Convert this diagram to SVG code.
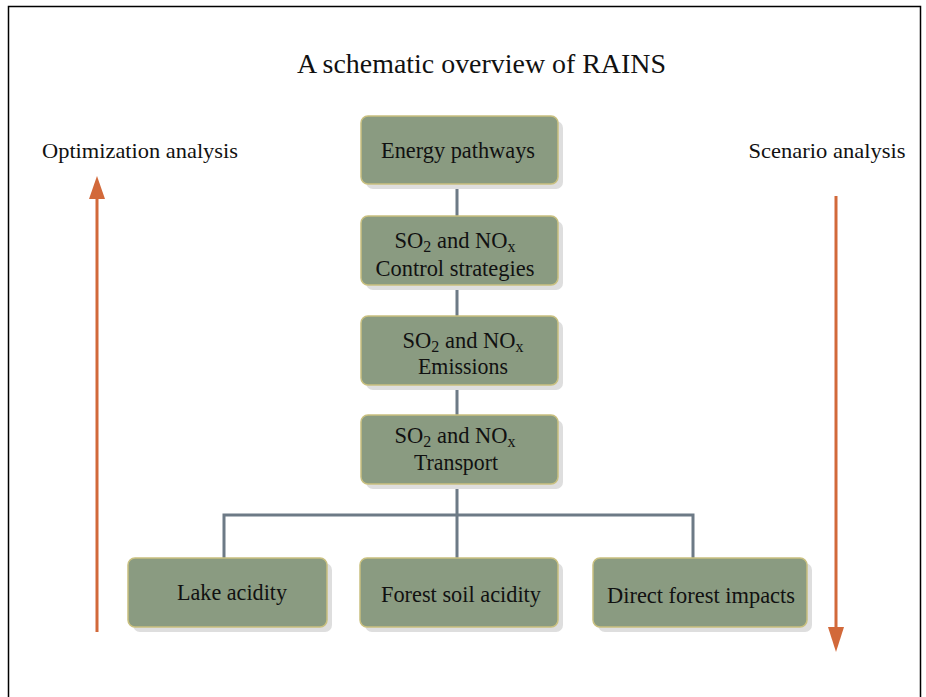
<svg xmlns="http://www.w3.org/2000/svg" width="926" height="697" viewBox="0 0 926 697" font-family="'Liberation Serif', 'Times New Roman', 'DejaVu Serif', serif">
<style>
.t{fill:#111;}
.lbl{font-size:22.5px;text-anchor:middle;fill:#111;}
.box{fill:#8a9b81;stroke:#c9c07f;stroke-width:1.5;}
.sh{fill:#dedede;}
.con{stroke:#6d7a86;stroke-width:3;fill:none;}
.arr{stroke:#d2693a;stroke-width:3;fill:none;}
.ah{fill:#d2693a;}
</style>
<rect x="0" y="0" width="926" height="697" fill="#fff"/>
<path d="M8.5,700 V6.5 H920.5 V700" fill="none" stroke="#000" stroke-width="1.5"/>
<text class="t" x="481.5" y="73" font-size="27" text-anchor="middle" textLength="369" lengthAdjust="spacingAndGlyphs">A schematic overview of RAINS</text>
<text class="t" x="140" y="158" font-size="21" text-anchor="middle" textLength="196" lengthAdjust="spacingAndGlyphs">Optimization analysis</text>
<text class="t" x="827" y="158" font-size="21" text-anchor="middle" textLength="157" lengthAdjust="spacingAndGlyphs">Scenario analysis</text>
<g id="connectors">
<path class="con" d="M457,184 V558 M224,558 V515 H693 V558"/>
<path class="arr" d="M97,632 V195"/>
<path class="ah" d="M97,176 L105,199 L89,199 Z"/>
<path class="arr" d="M836,196 V630"/>
<path class="ah" d="M836,652 L828,627 L844,627 Z"/>
</g>
<g id="n1"><rect class="sh" x="366" y="121" width="197" height="68" rx="7"/><rect class="box" x="361" y="116" width="197" height="68" rx="7"/><text class="lbl" x="458" y="158" textLength="154" lengthAdjust="spacingAndGlyphs">Energy pathways</text></g>
<g id="n2"><rect class="sh" x="366" y="221" width="197" height="69" rx="7"/><rect class="box" x="361" y="216" width="197" height="69" rx="7"/><text class="lbl" x="455" y="248">SO<tspan baseline-shift="-4" font-size="16">2</tspan> and NO<tspan baseline-shift="-4" font-size="16">x</tspan></text><text class="lbl" x="455" y="276" textLength="159" lengthAdjust="spacingAndGlyphs">Control strategies</text></g>
<g id="n3"><rect class="sh" x="366" y="321" width="197" height="69" rx="7"/><rect class="box" x="361" y="316" width="197" height="69" rx="7"/><text class="lbl" x="463" y="348">SO<tspan baseline-shift="-4" font-size="16">2</tspan> and NO<tspan baseline-shift="-4" font-size="16">x</tspan></text><text class="lbl" x="463" y="374" textLength="90" lengthAdjust="spacingAndGlyphs">Emissions</text></g>
<g id="n4"><rect class="sh" x="366" y="420" width="197" height="69" rx="7"/><rect class="box" x="361" y="415" width="197" height="69" rx="7"/><text class="lbl" x="455" y="443">SO<tspan baseline-shift="-4" font-size="16">2</tspan> and NO<tspan baseline-shift="-4" font-size="16">x</tspan></text><text class="lbl" x="456" y="470" textLength="84" lengthAdjust="spacingAndGlyphs">Transport</text></g>
<g id="n5"><rect class="sh" x="133" y="563" width="199" height="69" rx="7"/><rect class="box" x="128" y="558" width="199" height="69" rx="7"/><text class="lbl" x="232" y="600" textLength="110" lengthAdjust="spacingAndGlyphs">Lake acidity</text></g>
<g id="n6"><rect class="sh" x="365" y="563" width="198" height="69" rx="7"/><rect class="box" x="360" y="558" width="198" height="69" rx="7"/><text class="lbl" x="461" y="602" textLength="160" lengthAdjust="spacingAndGlyphs">Forest soil acidity</text></g>
<g id="n7"><rect class="sh" x="598" y="563" width="214" height="69" rx="7"/><rect class="box" x="593" y="558" width="214" height="69" rx="7"/><text class="lbl" x="701" y="603" textLength="188" lengthAdjust="spacingAndGlyphs">Direct forest impacts</text></g>
</svg>
